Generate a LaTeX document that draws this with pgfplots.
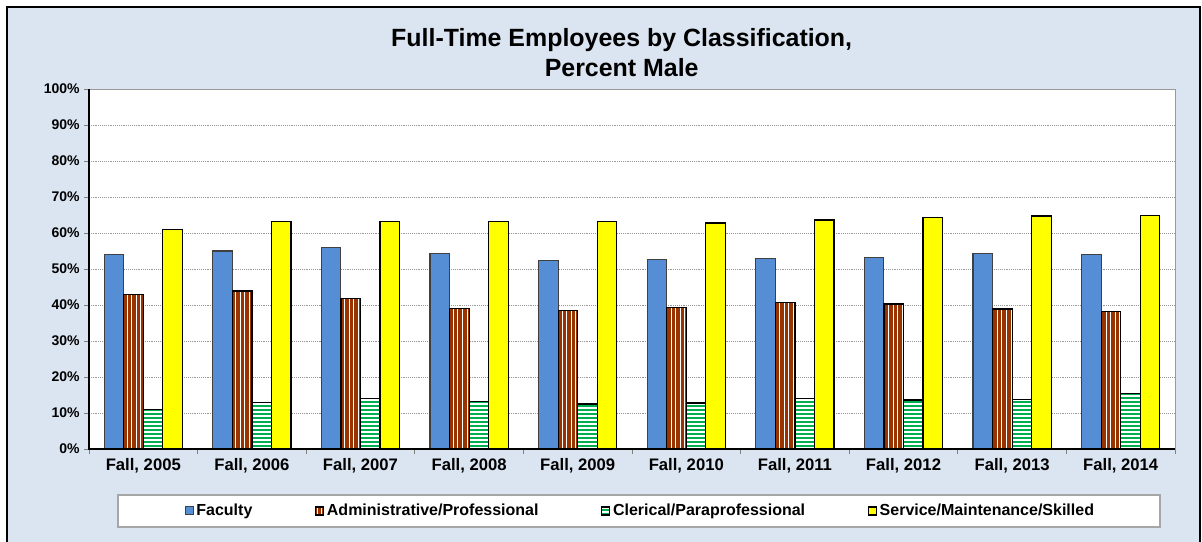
\documentclass[border=0pt]{standalone}
\usepackage{pgfplots}
\pgfplotsset{compat=1.18}
\usepackage{fontspec}
\setmainfont{Liberation Sans}
\usetikzlibrary{patterns.meta}
\definecolor{bgblue}{HTML}{DBE5F1}
\definecolor{facblue}{HTML}{558ED5}
\definecolor{admbrown}{HTML}{993300}
\definecolor{clgreen}{HTML}{00B050}
\definecolor{svyellow}{HTML}{FFFF00}
\begin{document}
\begin{tikzpicture}
\useasboundingbox (-66.75pt,-69.75pt) rectangle (834.75pt,336.75pt);
\fill[white] (-66.75pt,-69.75pt) rectangle (834.75pt,336.75pt);
\fill[bgblue] (-61.5pt,-71pt) rectangle (833.6pt,331.5pt);
\draw[black, line width=1.5pt] (-61.5pt,-71pt) -- (-61.5pt,331.5pt) -- (833.6pt,331.5pt) -- (833.6pt,-71pt);
\draw[gray!70, line width=0.8pt, fill=white] (21.75pt,-34.5pt) rectangle (803.25pt,-58.5pt);
\begin{axis}[
  width=814.5pt, height=270pt, scale only axis,
  xmin=-0.5, xmax=9.5, ymin=0, ymax=100,
  ybar=0pt, bar width=0.18,
  axis background/.style={fill=white},
  axis line style={gray!80, line width=0.6pt},
  xtick={-0.5,0.5,1.5,2.5,3.5,4.5,5.5,6.5,7.5,8.5,9.5},
  x tick label as interval,
  xticklabels={{Fall, 2005},{Fall, 2006},{Fall, 2007},{Fall, 2008},{Fall, 2009},{Fall, 2010},{Fall, 2011},{Fall, 2012},{Fall, 2013},{Fall, 2014}},
  ytick={0,10,...,100},
  yticklabel={\pgfmathprintnumber{\tick}\%},
  tick align=outside, tick pos=left,
  major tick length=3.5pt,
  tick style={gray, line width=0.6pt},
  ymajorgrids, grid style={densely dotted, gray!80, line width=0.5pt},
  x tick label style={font=\fontsize{12.5}{14}\selectfont\bfseries},
  y tick label style={font=\fontsize{10.5}{12}\selectfont\bfseries},
  /pgf/number format/assume math mode=true,
  legend style={draw=none, fill=none, at={(0.508,-0.172)}, anchor=center,
    legend columns=4, /tikz/every even column/.append style={column sep=45pt},
    font=\fontsize{12}{14}\selectfont\bfseries},
  legend image code/.code={\draw[#1] (0pt,-3pt) rectangle (6pt,3pt);},
  after end axis/.code={\draw[black, line width=0.8pt] (rel axis cs:0,1) -- (rel axis cs:0,0) -- (rel axis cs:1,0);},
]
\addplot[fill=facblue, draw=black!75, line width=0.8pt] coordinates {(0,54.0) (1,55.0) (2,56.0) (3,54.2) (4,52.3) (5,52.7) (6,52.9) (7,53.1) (8,54.2) (9,53.9)};
\addplot[draw=black, line width=0.9pt, preaction={fill=admbrown}, pattern={Lines[angle=90,distance=3.4pt,line width=0.6pt]}, pattern color=white] coordinates {(0,43.0) (1,43.9) (2,41.9) (3,39.1) (4,38.5) (5,39.4) (6,40.7) (7,40.3) (8,38.9) (9,38.2)};
\addplot[draw=black, line width=0.9pt, preaction={fill=white}, pattern={Lines[angle=0,distance=3pt,line width=1.3pt]}, pattern color=clgreen] coordinates {(0,10.9) (1,13.0) (2,14.0) (3,13.3) (4,12.5) (5,12.8) (6,14.1) (7,13.6) (8,13.7) (9,15.4)};
\addplot[fill=svyellow, draw=black, line width=0.9pt] coordinates {(0,60.9) (1,63.1) (2,63.1) (3,63.1) (4,63.1) (5,62.8) (6,63.6) (7,64.3) (8,64.7) (9,64.9)};
\legend{Faculty, Administrative/Professional, Clerical/Paraprofessional, Service/Maintenance/Skilled}
\end{axis}
\node[align=center, font=\fontsize{18.7}{22.5}\selectfont\bfseries] at (399.5pt,297pt) {Full-Time Employees by Classification,\\Percent Male};
\end{tikzpicture}
\end{document}
